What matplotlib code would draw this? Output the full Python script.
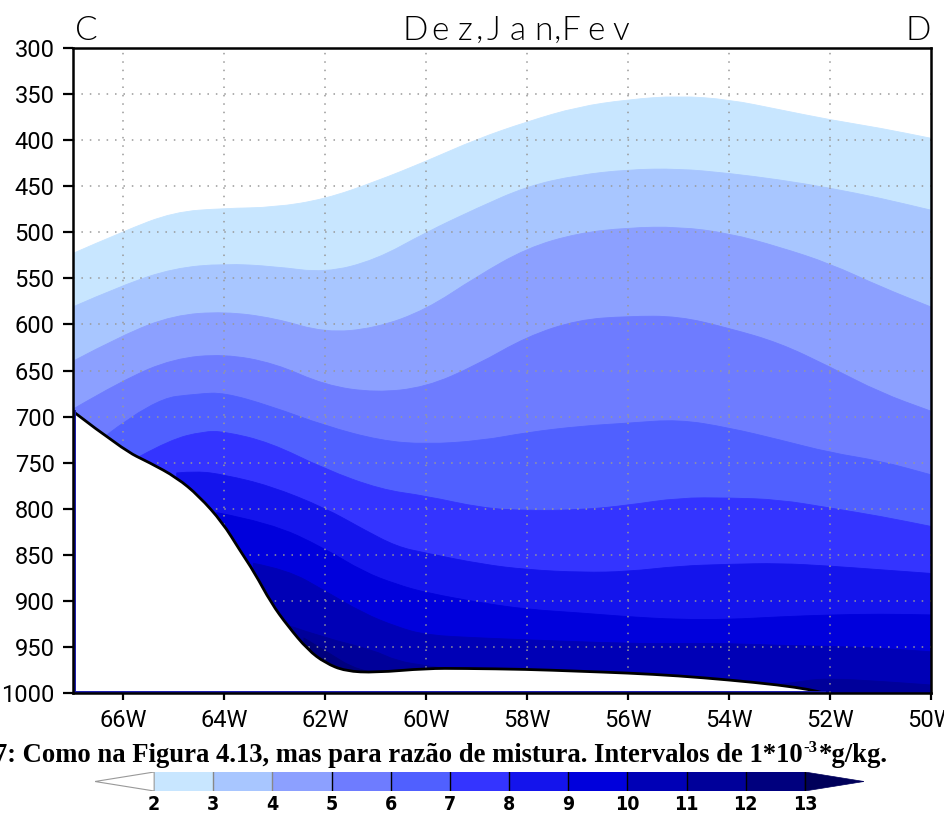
import numpy as np
import matplotlib
matplotlib.use("Agg")
import matplotlib.pyplot as plt
from matplotlib.path import Path
from matplotlib.patches import PathPatch

W, H = 944, 814

# contour levels (mixing ratio, g/kg) and fill colours of each band
levels = [2, 3, 4, 5, 6, 7, 8, 9, 10, 11, 12, 13]
band_colors = ['#c8e6ff', '#a8c6ff', '#8ca0ff', '#6e7cff', '#5060ff', '#3434ff',
               '#1414ec', '#0000dc', '#0000b6', '#00009a', '#00007e']
over_color = '#00005a'

# pressure of each contour line (hPa) along the section
lon_full = [-67, -66, -65, -64, -63, -62, -61, -60, -59, -58, -57, -56, -55, -54, -53, -52, -51, -50]
p_lev2 = [523, 499, 478, 474, 473, 464, 445, 423, 399, 380, 364, 356, 352, 356, 367, 378, 387, 398]
p_lev3 = [581, 557, 539, 534, 537, 544, 530, 500, 474, 450, 438, 432, 431, 436, 443, 452, 463, 476]
p_lev4 = [640, 611, 590, 586, 593, 609, 604, 584, 548, 517, 501, 495, 494, 501, 516, 534, 559, 581]
p_lev5 = [692, 660, 637, 632, 642, 666, 674, 668, 644, 613, 595, 591, 591, 604, 620, 646, 674, 694]

lon_lev6 = [-66.33, -65.4, -64.5, -64, -63.1, -62, -60.9, -60, -58.9, -58, -56.9, -56, -55, -54, -53, -52, -51, -50]
p_lev6 = [720, 681, 675, 674, 688, 710, 726, 730, 726, 717, 710, 707, 703, 712, 725, 739, 748, 763]

lon_lev7 = [-65.67, -65.07, -64.41, -64, -63.09, -62, -60.9, -60, -58.9, -58, -56.9, -56, -55, -54, -53, -52, -51, -50]
p_lev7 = [743, 725, 716, 716, 728, 757, 779, 786, 799, 802, 801, 796, 788, 788, 790, 799, 808, 819]

lon_lev8 = [-64.94, -64.54, -64, -63.09, -62, -61.25, -60.58, -60, -58.9, -58, -56.9, -56, -55, -54, -53, -52, -51, -50]
p_lev8 = [761, 759, 763, 775, 799, 822, 841, 848, 860, 866, 869, 868, 862, 860, 859, 862, 866, 870]

lon_lev9 = [-64.15, -63.09, -62, -61.25, -60.58, -60, -58.9, -58, -56.9, -56, -55, -54, -53, -52, -51, -50]
p_lev9 = [804, 815, 843, 868, 882, 891, 902, 909, 913, 917, 920, 920, 917, 915, 914, 915]

lon_lev10 = [-63.42, -62.75, -62, -61.25, -60.58, -60, -58.9, -58, -56, -55, -54, -53, -52, -51, -50]
p_lev10 = [859, 866, 889, 913, 928, 937, 940, 942, 946, 946, 946, 948, 949, 951, 955]

lon_lev11a = [-62.7, -62, -61.05, -60.58, -60, -59.5]
p_lev11a = [927, 940, 953, 965, 970, 974]
lon_lev11b = [-53.3, -52.5, -52, -51, -50]
p_lev11b = [993, 986, 984, 987, 991]

lon_lev12 = [-62.42, -61.9, -61.5, -61.1]
p_lev12 = [940, 957, 971, 977]

# topography (surface pressure, hPa)
lon_topo = [-67, -66, -65.47, -64.94, -64.5, -64.03, -63.7, -63.4, -63.07, -62.74, -62.34,
            -62, -61.6, -61.0, -60, -59.26, -58, -57, -56, -55, -54, -53, -52.4, -52.1]
p_topo = [694, 736, 750, 766, 786, 815, 844, 869, 902, 927, 953,
          967, 976, 977.5, 973, 973, 974, 976, 978, 981, 985.5, 991, 996, 1000]

x_ticks = [-66, -64, -62, -60, -58, -56, -54, -52, -50]
x_labels = ['66W', '64W', '62W', '60W', '58W', '56W', '54W', '52W', '50W']
y_ticks = list(range(300, 1001, 50))


def curve_path(xs, ys, close_to=None):
    # quadratic bezier through midpoints, so contour edges look smooth
    verts = [(xs[0], ys[0])]
    codes = [Path.MOVETO]
    for i in range(1, len(xs) - 1):
        verts += [(xs[i], ys[i]), ((xs[i] + xs[i + 1]) / 2, (ys[i] + ys[i + 1]) / 2)]
        codes += [Path.CURVE3, Path.CURVE3]
    verts.append((xs[-1], ys[-1]))
    codes.append(Path.LINETO)
    if close_to is not None:
        verts += [(xs[-1], close_to), (xs[0], close_to), (xs[0], ys[0])]
        codes += [Path.LINETO, Path.LINETO, Path.CLOSEPOLY]
    return Path(verts, codes)


fig = plt.figure(figsize=(W / 100, H / 100), dpi=100)
ax = fig.add_axes([72.7 / W, 1 - 693.3 / H, (931 - 72.7) / W, (693.3 - 47.9) / H])

curves = [
    (lon_full, p_lev2), (lon_full, p_lev3), (lon_full, p_lev4), (lon_full, p_lev5),
    (lon_lev6, p_lev6), (lon_lev7, p_lev7), (lon_lev8, p_lev8), (lon_lev9, p_lev9),
    (lon_lev10, p_lev10), (lon_lev11a, p_lev11a), (lon_lev11b, p_lev11b), (lon_lev12, p_lev12),
]
band_idx = [0, 1, 2, 3, 4, 5, 6, 7, 8, 9, 9, 10]
for (lo, pr), k in zip(curves, band_idx):
    ax.add_patch(PathPatch(curve_path(lo, pr, 1000), facecolor=band_colors[k],
                           edgecolor=band_colors[k], lw=0.6, zorder=1))

# dotted grid
for xv in x_ticks[:-1]:
    ax.axvline(xv, color='#999999', lw=1.1, ls=(0, (1, 4.5)), zorder=2)
for yv in y_ticks[1:-1]:
    ax.axhline(yv, color='#999999', lw=1.1, ls=(0, (1, 4.5)), zorder=2)

# topography mask
ax.add_patch(PathPatch(curve_path(lon_topo, p_topo, 1000), facecolor='white', lw=0, zorder=3))
ax.add_patch(PathPatch(curve_path(lon_topo, p_topo), fill=False, edgecolor='black',
                       lw=2, zorder=4, capstyle='round'))
ax.plot([-66.96, -66.96, -52.1], [694, 998.6, 998.6], color='#1a1ab0', lw=1.4, zorder=4)

ax.set_xlim(-67, -50)
ax.set_ylim(1000, 300)
ax.set_xticks(x_ticks)
ax.set_xticklabels(x_labels)
ax.set_yticks(y_ticks)
ax.tick_params(axis='both', direction='out', width=1.6, labelsize=17, pad=6,
               top=False, right=False)
ax.tick_params(axis='y', length=7)
ax.tick_params(axis='x', length=5)
for lab in ax.get_xticklabels() + ax.get_yticklabels():
    lab.set_family(['Roboto', 'DejaVu Sans'])
for s in ax.spines.values():
    s.set_linewidth(1.8)
    s.set_zorder(5)

# header
hdr = dict(family=['Lato', 'DejaVu Sans'], fontweight=300, fontsize=24,
           color='black', va='baseline', ha='center')
fig.text(86 / W, 1 - 40 / H, 'C', **hdr)
fig.text(918 / W, 1 - 40 / H, 'D', **hdr)
title = 'Dez,Jan,Fev'
xc = 415
for i, ch in enumerate(title):
    fig.text(xc / W, 1 - 40 / H, ch, **hdr)
    if i + 1 < len(title):
        xc += 14 if (ch == ',' or title[i + 1] == ',') else 25

# caption, with the exponent drawn as a raised smaller text
cap = dict(family=['Liberation Serif', 'DejaVu Serif'], fontweight='bold',
           ha='left', va='baseline')
renderer = fig.canvas.get_renderer()
t1 = fig.text(-6 / W, 1 - 761.7 / H,
              '7: Como na Figura 4.13, mas para razão de mistura. Intervalos de 1*10',
              fontsize=19.2, **cap)
x1 = t1.get_window_extent(renderer).x1
t2 = fig.text((x1 + 1) / W, 1 - 752 / H, '-3', fontsize=12, **cap)
x2 = t2.get_window_extent(renderer).x1
fig.text((x2 + 1) / W, 1 - 761.7 / H, '*g/kg.', fontsize=19.2, **cap)

# colour bar
cax = fig.add_axes([95 / W, 1 - 791 / H, 769 / W, 19 / H])
cax.bar(levels[:-1], 1, width=1, align='edge', color=band_colors, lw=0)
cax.fill([levels[0], levels[0] - 1, levels[0]], [0, 0.5, 1], facecolor='white',
         edgecolor='#999999', lw=0.8)
cax.fill([levels[-1], levels[-1] + 1, levels[-1]], [0, 0.5, 1], facecolor=over_color,
         edgecolor=over_color, lw=0.5)
for lv in levels[1:]:
    cax.plot([lv, lv], [0, 1], color='#888888' if lv < 5 else 'black', lw=1)
for lv in levels:
    cax.text(lv, -0.2, str(lv), ha='center', va='top', fontsize=14, fontweight='bold',
             family=['Liberation Sans Narrow', 'DejaVu Sans'], fontstretch='condensed')
cax.set_xlim(levels[0] - 1, levels[-1] + 1)
cax.set_ylim(0, 1)
cax.axis('off')

fig.savefig('out.png', dpi=100)
